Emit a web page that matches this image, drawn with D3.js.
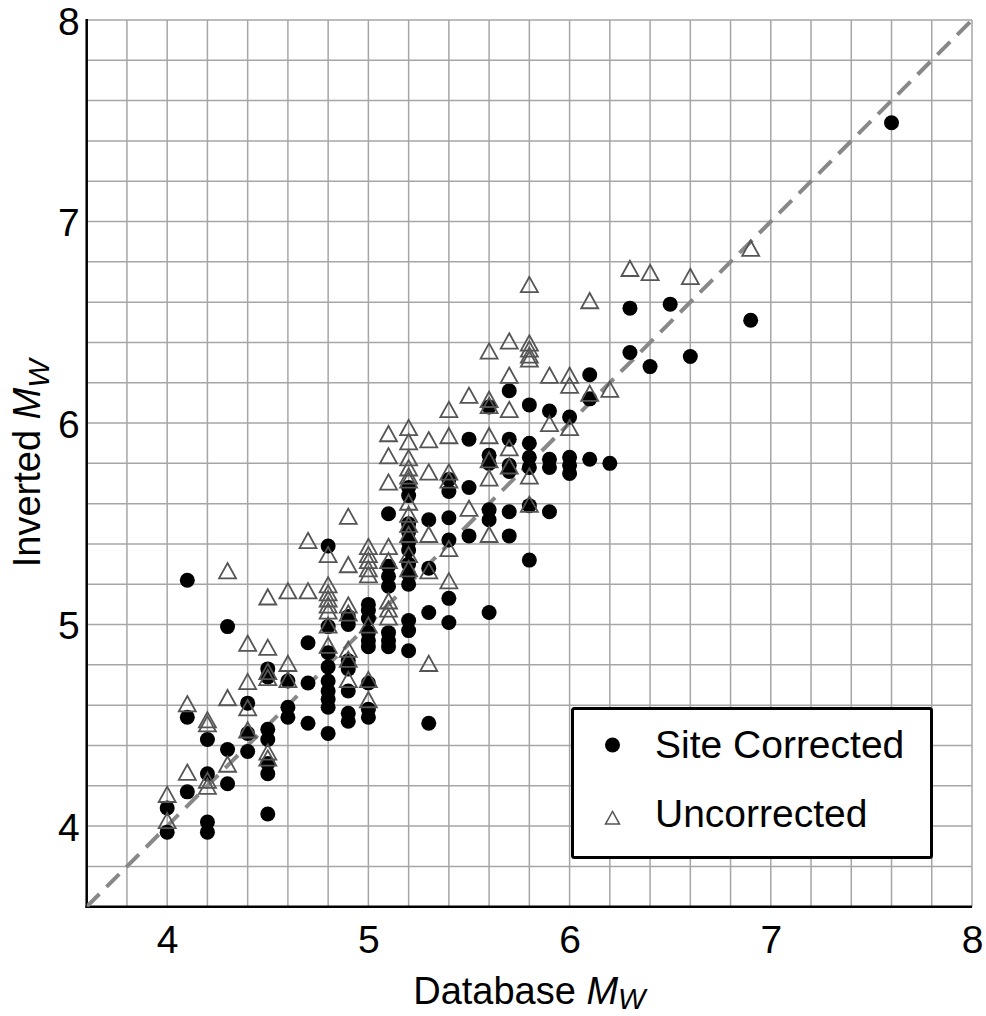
<!DOCTYPE html>
<html>
<head>
<meta charset="utf-8">
<script src="https://cdn.jsdelivr.net/npm/d3@7"></script>
<style>
  html, body { margin: 0; padding: 0; background: #fff; }
  svg { display: block; font-family: "Liberation Sans", Arial, Helvetica, sans-serif; }
</style>
</head>
<body>
<svg id="chart" width="986" height="1016"></svg>
<script>
// Database Mw columns
const dbMw = [4.0, 4.1, 4.2, 4.3, 4.4, 4.5, 4.6, 4.7, 4.8, 4.9, 5.0, 5.1, 5.2, 5.3, 5.4,
              5.5, 5.6, 5.7, 5.8, 5.9, 6.0, 6.1, 6.2, 6.3, 6.4, 6.5, 6.6, 6.9, 7.6];

// Inverted Mw, site corrected (filled circles), one list per database Mw
const siteCorrected = [
  [4.09, 3.97],
  [5.22, 4.54, 4.17],
  [4.43, 4.26, 4.02, 3.97],
  [4.99, 4.38, 4.21],
  [4.61, 4.46, 4.37],
  [4.78, 4.74, 4.48, 4.43, 4.31, 4.26, 4.06],
  [4.72, 4.59, 4.54],
  [4.91, 4.71, 4.51],
  [5.39, 4.99, 4.86, 4.79, 4.72, 4.67, 4.63, 4.59, 4.46],
  [5.04, 5.00, 4.82, 4.78, 4.67, 4.56, 4.52],
  [5.10, 5.07, 5.03, 4.96, 4.92, 4.89, 4.71, 4.58, 4.54],
  [5.55, 5.29, 5.24, 5.19, 4.96, 4.92, 4.89],
  [5.68, 5.64, 5.50, 5.46, 5.41, 5.37, 5.30, 5.25, 5.20, 5.02, 4.97, 4.87],
  [5.52, 5.28, 5.06, 4.51],
  [5.72, 5.66, 5.53, 5.42, 5.13, 5.01],
  [5.92, 5.68, 5.44],
  [6.08, 5.84, 5.80, 5.57, 5.52, 5.06],
  [6.16, 5.92, 5.79, 5.76, 5.56, 5.44],
  [6.09, 5.90, 5.83, 5.78, 5.59, 5.32],
  [6.06, 5.82, 5.78, 5.56],
  [6.03, 5.83, 5.79, 5.75],
  [6.24, 6.12, 5.82],
  [5.80],
  [6.57, 6.35],
  [6.28],
  [6.59],
  [6.33],
  [6.51],
  [7.49]
];

// Inverted Mw, uncorrected (open triangles)
const uncorrected = [
  [4.15, 4.02],
  [4.60, 4.26],
  [4.52, 4.50, 4.22, 4.19],
  [5.26, 4.63, 4.30],
  [4.90, 4.71, 4.58, 4.47],
  [5.13, 4.88, 4.76, 4.73, 4.36, 4.33],
  [5.16, 4.80, 4.72],
  [5.41, 5.16],
  [5.34, 5.19, 5.15, 5.12, 5.09, 5.06, 4.99, 4.89],
  [5.53, 5.29, 5.09, 5.05, 4.87, 4.82, 4.72],
  [5.38, 5.34, 5.31, 5.27, 5.24, 4.99, 4.72, 4.62],
  [5.94, 5.83, 5.70, 5.38, 5.31, 5.11, 5.07, 5.03],
  [5.97, 5.90, 5.82, 5.77, 5.73, 5.71, 5.60, 5.54, 5.49, 5.44, 5.34, 5.27],
  [5.91, 5.75, 5.44, 5.26, 4.80],
  [6.06, 5.93, 5.75, 5.71, 5.37, 5.21],
  [6.13, 5.57],
  [6.35, 6.11, 6.08, 5.93, 5.81, 5.72, 5.44],
  [6.40, 6.23, 6.06, 5.87, 5.78],
  [6.68, 6.39, 6.36, 6.33, 6.31, 5.73, 5.59],
  [6.23, 5.99],
  [6.23, 6.18, 5.97],
  [6.60, 6.14],
  [6.16],
  [6.76],
  [6.74],
  [],
  [6.72],
  [6.86],
  []
];

const tickValues = [4, 5, 6, 7, 8];
const domain = [3.6, 8.0];
const legendLabels = ["Site Corrected", "Uncorrected"];

// ---------------------------------------------------------------
const svg = d3.select("#chart");
const pL = 86.7, pR = 972, pT = 20, pB = 906.7;

const x = d3.scaleLinear().domain(domain).range([pL, pR]);
const y = d3.scaleLinear().domain(domain).range([pB, pT]);

const flatten = (cols) => dbMw.flatMap((m, i) => cols[i].map(v => ({x: m, y: v})));
const dots = flatten(siteCorrected);
const tris = flatten(uncorrected);

// grid
const gridVals = d3.range(3.6, 8.0001, 0.2);
const grid = svg.append("g");
grid.selectAll("line.v").data(gridVals).join("line").attr("class", "v")
  .attr("x1", d => x(d)).attr("x2", d => x(d))
  .attr("y1", pT).attr("y2", pB)
  .attr("stroke", "#a6a6a6").attr("stroke-width", 1.5);
grid.selectAll("line.h").data(gridVals).join("line").attr("class", "h")
  .attr("y1", d => y(d)).attr("y2", d => y(d))
  .attr("x1", pL).attr("x2", pR)
  .attr("stroke", "#a6a6a6").attr("stroke-width", 1.5);

// axes
const tickFont = 39;
const xAxis = d3.axisBottom(x).tickValues(tickValues).tickSize(0).tickPadding(18.5).tickFormat(d3.format("d"));
const yAxis = d3.axisLeft(y).tickValues(tickValues).tickSize(0).tickPadding(7).tickFormat(d3.format("d"));

const gx = svg.append("g").attr("transform", `translate(0,${pB})`).call(xAxis);
const gy = svg.append("g").attr("transform", `translate(${pL},0)`).call(yAxis);
[gx, gy].forEach(g => {
  g.select(".domain").remove();
  g.selectAll("text").attr("font-size", tickFont).attr("fill", "#000")
    .attr("font-family", "'Liberation Sans', Arial, sans-serif");
});
gx.selectAll("text").attr("dy", "0.71em");
gy.selectAll("text").attr("dy", "0.36em");

svg.append("line").attr("x1", pL).attr("x2", pL).attr("y1", pT - 1).attr("y2", pB + 1.2)
  .attr("stroke", "#000").attr("stroke-width", 2.5);
svg.append("line").attr("x1", pL - 1.2).attr("x2", pR).attr("y1", pB).attr("y2", pB)
  .attr("stroke", "#000").attr("stroke-width", 2.5);

// 1:1 dashed line
const clip = svg.append("clipPath").attr("id", "plotclip");
clip.append("rect").attr("x", pL).attr("y", pT).attr("width", pR - pL).attr("height", pB - pT);
svg.append("line")
  .attr("clip-path", "url(#plotclip)")
  .attr("x1", x(domain[0])).attr("y1", y(domain[0]))
  .attr("x2", x(domain[1])).attr("y2", y(domain[1]))
  .attr("stroke", "#888").attr("stroke-width", 4).attr("stroke-dasharray", "18,10");

// points
const triPath = (s) => {
  const h = s * 0.9;
  return `M0,${-h * 0.6}L${s / 2},${h * 0.4}L${-s / 2},${h * 0.4}Z`;
};
svg.append("g").selectAll("circle").data(dots).join("circle")
  .attr("cx", d => x(d.x)).attr("cy", d => y(d.y)).attr("r", 7.5).attr("fill", "#000");
svg.append("g").selectAll("path").data(tris).join("path")
  .attr("transform", d => `translate(${x(d.x)},${y(d.y)})`)
  .attr("d", triPath(17)).attr("fill", "none").attr("stroke", "#555").attr("stroke-width", 1.8);

// legend
const lg = svg.append("g");
lg.append("rect").attr("x", 572.5).attr("y", 708.5).attr("width", 359).attr("height", 149)
  .attr("rx", 2).attr("fill", "#fff").attr("stroke", "#000").attr("stroke-width", 3);
lg.append("circle").attr("cx", 612.5).attr("cy", 745).attr("r", 7.5).attr("fill", "#000");
lg.append("path").attr("transform", "translate(612.5,819)").attr("d", triPath(14))
  .attr("fill", "none").attr("stroke", "#555").attr("stroke-width", 1.5);
lg.selectAll("text").data(legendLabels).join("text")
  .attr("x", 655).attr("y", (d, i) => 758 + i * 69)
  .attr("font-size", 39).attr("fill", "#000").text(d => d);

// axis titles
const xt = svg.append("text").attr("x", (pL + pR) / 2).attr("y", 1004)
  .attr("text-anchor", "middle").attr("font-size", 38).attr("fill", "#000");
xt.append("tspan").text("Database ");
xt.append("tspan").attr("font-style", "italic").text("M");
xt.append("tspan").attr("font-style", "italic").attr("font-size", 29).attr("dy", 5).text("W");

const yt = svg.append("text").attr("transform", `translate(40,${(pT + pB) / 2}) rotate(-90)`)
  .attr("text-anchor", "middle").attr("font-size", 38).attr("fill", "#000");
yt.append("tspan").text("Inverted ");
yt.append("tspan").attr("font-style", "italic").text("M");
yt.append("tspan").attr("font-style", "italic").attr("font-size", 30).attr("dy", 9).text("W");
</script>
</body>
</html>
